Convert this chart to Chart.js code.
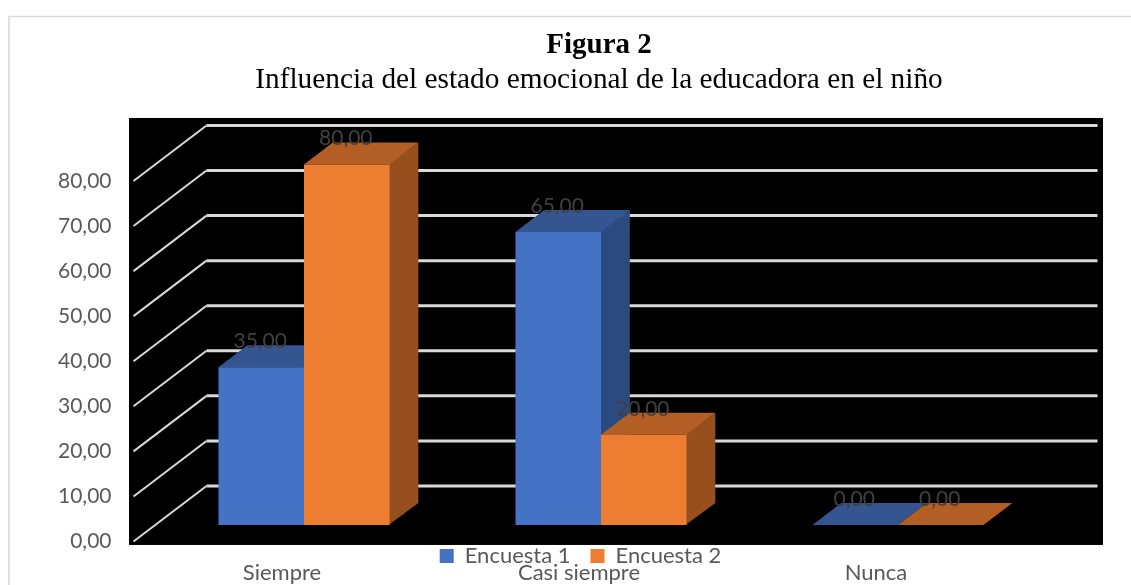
<!DOCTYPE html>
<html>
<head>
<meta charset="utf-8">
<title>Figura 2</title>
<script src="https://cdn.jsdelivr.net/npm/chart.js@4"></script>
<style>
    html, body { margin: 0; padding: 0; background: #fff; overflow: hidden; }
    canvas { display: block; }
</style>
</head>
<body>
<canvas id="figura" width="1131" height="585"></canvas>
<script>
const categories = ['Siempre', 'Casi siempre', 'Nunca'];
const encuesta1 = [35, 65, 0];
const encuesta2 = [80, 20, 0];
const yMax = 80;
const yStep = 10;

const titleText = 'Figura 2';
const subtitleText = 'Influencia del estado emocional de la educadora en el niño';

const labelFont = '"Lato", sans-serif';

// 3D look: the walls go back by this much, the bars sit part of the way in
const wallDepth = { x: 73, y: -55.5 };
const barShift = { x: 22, y: -16.5 };
const barDepth = { x: 28.8, y: -22 };

const faces = [
    { top: '#34558f', side: '#2b4a80' },
    { top: '#b25e24', side: '#964f1d' }
];

function shade(ctx, color, points) {
    ctx.fillStyle = color;
    ctx.beginPath();
    points.forEach((p, i) => i ? ctx.lineTo(p[0], p[1]) : ctx.moveTo(p[0], p[1]));
    ctx.closePath();
    ctx.fill();
}

const scene3d = {
    id: 'scene3d',
    afterLayout(chart) {
        // titles are centred on the panel and the legend sits on top of the axis labels
        chart.boxes.forEach(box => {
            if (box.options && box.options.text && box.position === 'top') {
                box.left = 0;
                box.right = 1198;
            }
        });
        const legend = chart.legend;
        const h = legend.bottom - legend.top;
        const pad = legend.options.labels.padding;
        legend.top = 545 - pad;
        legend.bottom = legend.top + h;
        legend.left = chart.chartArea.left;
        legend.right = chart.chartArea.right + 3;
    },
    beforeDraw(chart) {
        const { ctx, chartArea: area, scales: { y } } = chart;
        ctx.save();
        // outer frame
        ctx.strokeStyle = '#d9d9d9';
        ctx.lineWidth = 1.6;
        ctx.beginPath();
        ctx.moveTo(9, 585);
        ctx.lineTo(9, 16.5);
        ctx.lineTo(1131, 16.5);
        ctx.stroke();
        // black panel
        ctx.fillStyle = '#000';
        ctx.fillRect(area.left - 4.5, y.getPixelForValue(yMax) - 63, area.width + 83, 427);
        // grid: side wall and back wall
        ctx.strokeStyle = '#d9d9d9';
        y.ticks.forEach(tick => {
            const py = y.getPixelForValue(tick.value);
            const backX = area.left + wallDepth.x;
            const backY = py + wallDepth.y;
            ctx.lineWidth = 2;
            ctx.beginPath();
            ctx.moveTo(area.left, py);
            ctx.lineTo(backX, backY);
            ctx.stroke();
            ctx.lineWidth = 3;
            ctx.beginPath();
            ctx.moveTo(backX, backY);
            ctx.lineTo(area.right + wallDepth.x, backY);
            ctx.stroke();
        });
        ctx.restore();
    },
    beforeDatasetsDraw(chart) {
        // Encuesta 2 has to land on top of Encuesta 1, so the bars are drawn here in dataset order
        const ctx = chart.ctx;
        chart.data.datasets.forEach((ds, i) => {
            const meta = chart.getDatasetMeta(i);
            ctx.save();
            ctx.translate(barShift.x, barShift.y);
            meta.data.forEach(bar => {
                const { x, y, base, width } = bar.getProps(['x', 'y', 'base', 'width'], true);
                const l = x - width / 2;
                const r = x + width / 2;
                const dx = barDepth.x;
                const dy = barDepth.y;
                // side starts 1px behind the front face so no gridline shows in the seam
                shade(ctx, faces[i].side, [[r - 1, y], [r + dx, y + dy], [r + dx, base + dy], [r - 1, base]]);
                shade(ctx, faces[i].top, [[l, y], [l + dx, y + dy], [r + dx, y + dy], [r, y]]);
            });
            meta.controller.draw();
            ctx.restore();
        });
    },
    beforeDatasetDraw() {
        return false;
    },
    afterDatasetsDraw(chart) {
        const ctx = chart.ctx;
        ctx.save();
        ctx.font = '21px ' + labelFont;
        ctx.fillStyle = '#404040';
        ctx.textAlign = 'center';
        ctx.textBaseline = 'middle';
        chart.data.datasets.forEach((ds, i) => {
            chart.getDatasetMeta(i).data.forEach((bar, j) => {
                const text = ds.data[j].toFixed(2).replace('.', ',');
                ctx.fillText(text, bar.x + barShift.x - 1, bar.y + barShift.y - 26);
            });
        });
        ctx.restore();
    }
};

new Chart(document.getElementById('figura'), {
    type: 'bar',
    data: {
        labels: categories,
        datasets: [
            { label: 'Encuesta 1', data: encuesta1, backgroundColor: '#4472c4' },
            { label: 'Encuesta 2', data: encuesta2, backgroundColor: '#ed7d31' }
        ]
    },
    options: {
        responsive: false,
        animation: false,
        layout: { padding: { left: 0, top: 0, right: 106.5, bottom: -52.5 } },
        datasets: { bar: { barPercentage: 1, categoryPercentage: 0.576 } },
        scales: {
            x: {
                grid: { display: false, drawTicks: false },
                border: { display: false },
                afterFit: scale => { scale.height = 44; },
                ticks: {
                    color: '#595959',
                    padding: 18,
                    autoSkip: false,
                    maxRotation: 0,
                    font: { family: labelFont, size: 22 }
                }
            },
            y: {
                min: 0,
                max: yMax,
                grid: { display: false, drawTicks: false },
                border: { display: false },
                afterFit: scale => { scale.width = 133.5; },
                ticks: {
                    stepSize: yStep,
                    color: '#595959',
                    padding: 22,
                    font: { family: labelFont, size: 21 },
                    callback: value => value.toFixed(2).replace('.', ',')
                }
            }
        },
        plugins: {
            tooltip: { enabled: false },
            title: {
                display: true,
                text: titleText,
                color: '#000',
                padding: { top: 28, bottom: 0 },
                font: { family: '"Liberation Serif", serif', size: 29, weight: 'bold', lineHeight: 1.2 }
            },
            subtitle: {
                display: true,
                text: subtitleText,
                color: '#000',
                padding: { top: 0, bottom: 83 },
                font: { family: '"Liberation Serif", serif', size: 29.3, weight: 'normal', lineHeight: 1.2 }
            },
            legend: {
                position: 'bottom',
                labels: {
                    boxWidth: 14,
                    boxHeight: 14,
                    padding: 20,
                    color: '#595959',
                    font: { family: labelFont, size: 22 }
                }
            }
        }
    },
    plugins: [scene3d]
});
</script>
</body>
</html>
